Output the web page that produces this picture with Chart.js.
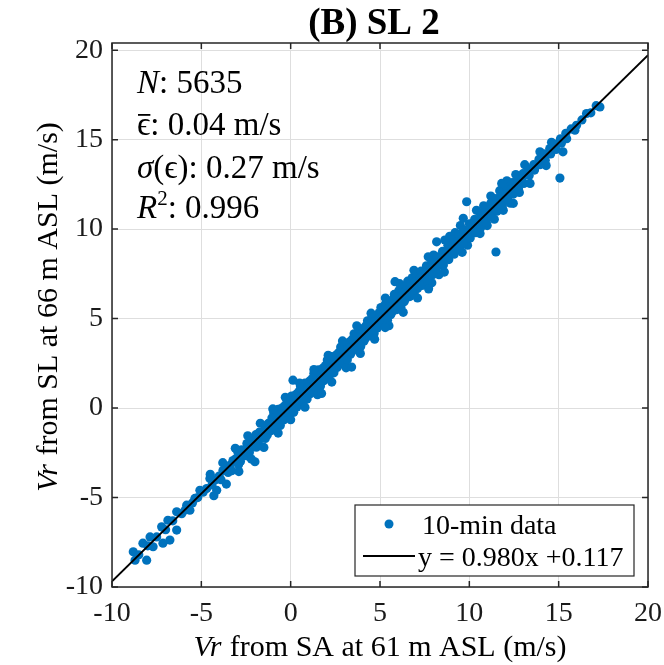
<!DOCTYPE html>
<html>
<head>
<meta charset="utf-8">
<script src="https://cdn.jsdelivr.net/npm/chart.js@4.4.1/dist/chart.umd.min.js"></script>
<style>
  html, body { margin: 0; padding: 0; background: #fff; }
  #wrap { width: 664px; height: 665px; }
</style>
</head>
<body>
<div id="wrap"><canvas id="chart" width="664" height="665"></canvas></div>
<script>
// axis setup (the y box runs a little past 20, like the original)
const xMin = -10, xMax = 20;
const yMin = -10, yMax = 20.4;
const tickValues = [-10, -5, 0, 5, 10, 15, 20];

// fit from the legend
const fitSlope = 0.980;
const fitIntercept = 0.117;

// stats box
const statN = '5635';
const statMeanErr = '0.04';
const statStdErr = '0.27';
const statR2 = '0.996';

// 10-min data as [SA, SL]
const tailLow = [
  [-8.81,-8.03],[-8.71,-8.5],[-8.06,-8.5],[-8.27,-7.55],[-7.87,-7.2],[-7.7,-7.75],
  [-7.22,-6.64],[-7.15,-7.55],[-6.87,-6.27],[-6.76,-7.38],[-6.38,-5.8],[-6.38,-6.82],
  [-5.82,-5.43],[-5.64,-5.71],[-5.36,-5.05],[-5.08,-4.6],[-4.52,-3.94],[-4.14,-4.6],
  [-3.79,-3.49],[-3.23,-2.93],[-2.84,-2.38],[-2.0,-3.0],
  [-8.5,-8.2],[-8.0,-7.7],[-7.5,-7.2],[-7.0,-6.8],[-6.6,-6.3],[-6.1,-5.9],[-5.9,-5.7],
  [-5.5,-5.3],[-5.2,-5.0],[-4.9,-4.7],[-4.7,-4.5],[-4.4,-4.3],[-4.2,-4.0],[-4.0,-3.8],
  [-3.9,-4.0],[-3.6,-3.4],[-3.5,-3.6],[-3.4,-3.2],[-3.3,-3.5],[-3.1,-2.9]
];

const core = [
  [-2.95,-2.47],[-3.05,-2.82],[-2.92,-3.17],
  [-2.75,-2.33],[-2.65,-2.68],[-2.81,-2.98],
  [-2.45,-1.98],[-2.55,-2.33],[-2.42,-2.68],
  [-2.25,-1.84],[-2.15,-2.19],[-2.31,-2.49],
  [-1.95,-1.49],[-2.05,-1.84],[-1.92,-2.19],
  [-1.75,-1.35],[-1.65,-1.70],[-1.81,-2.00],
  [-1.45,-1.00],[-1.55,-1.35],[-1.42,-1.70],
  [-1.25,-0.86],[-1.15,-1.21],[-1.31,-1.51],
  [-0.95,-0.26],[-1.05,-0.56],[-0.90,-0.91],[-1.08,-1.26],
  [-0.70,-0.07],[-0.80,-0.42],[-0.65,-0.77],[-0.83,-1.12],
  [-0.45,0.03],[-0.55,-0.32],[-0.40,-0.67],[-0.58,-0.97],
  [-0.20,0.47],[-0.30,0.17],[-0.15,-0.18],[-0.33,-0.53],
  [0.05,0.67],[-0.05,0.32],[0.10,-0.03],[-0.08,-0.38],
  [0.30,0.76],[0.20,0.41],[0.35,0.06],[0.17,-0.24],
  [0.55,1.21],[0.45,0.91],[0.60,0.56],[0.42,0.21],
  [0.80,1.40],[0.70,1.05],[0.85,0.70],[0.67,0.35],
  [1.05,1.50],[0.95,1.15],[1.10,0.80],[0.92,0.50],
  [1.30,1.94],[1.20,1.64],[1.35,1.29],[1.17,0.94],
  [1.55,2.14],[1.45,1.79],[1.60,1.44],[1.42,1.09],
  [1.80,2.23],[1.70,1.88],[1.85,1.53],[1.67,1.23],
  [2.05,2.68],[1.95,2.38],[2.10,2.03],[1.92,1.68],
  [2.30,2.87],[2.20,2.52],[2.35,2.17],[2.17,1.82],
  [2.55,2.97],[2.45,2.62],[2.60,2.27],[2.42,1.97],
  [2.80,3.41],[2.70,3.11],[2.85,2.76],[2.67,2.41],
  [3.05,3.61],[2.95,3.26],[3.10,2.91],[2.92,2.56],
  [3.30,3.70],[3.20,3.35],[3.35,3.00],[3.17,2.70],
  [3.55,4.15],[3.45,3.85],[3.60,3.50],[3.42,3.15],
  [3.80,4.34],[3.70,3.99],[3.85,3.64],[3.67,3.29],
  [4.05,4.44],[3.95,4.09],[4.10,3.74],[3.92,3.44],
  [4.30,4.88],[4.20,4.58],[4.35,4.23],[4.17,3.88],
  [4.55,5.08],[4.45,4.73],[4.60,4.38],[4.42,4.03],
  [4.80,5.17],[4.70,4.82],[4.85,4.47],[4.67,4.17],
  [5.05,5.62],[4.95,5.32],[5.10,4.97],[4.92,4.62],
  [5.30,5.81],[5.20,5.46],[5.35,5.11],[5.17,4.76],
  [5.55,5.91],[5.45,5.56],[5.60,5.21],[5.42,4.91],
  [5.80,6.35],[5.70,6.05],[5.85,5.70],[5.67,5.35],
  [6.05,6.55],[5.95,6.20],[6.10,5.85],[5.92,5.50],
  [6.30,6.64],[6.20,6.29],[6.35,5.94],[6.17,5.64],
  [6.55,7.09],[6.45,6.79],[6.60,6.44],[6.42,6.09],
  [6.80,7.28],[6.70,6.93],[6.85,6.58],[6.67,6.23],
  [7.05,7.38],[6.95,7.03],[7.10,6.68],[6.92,6.38]
];

// rough upper / lower edges of the dense band
const edges = [
  [-4.5,-3.7],[-4.3,-4.9],[-3.8,-3.05],[-3.6,-4.25],[-3.1,-2.25],[-2.9,-3.55],
  [-2.4,-1.55],[-2.2,-2.85],[-1.7,-0.85],[-1.5,-2.2],[-1.0,-0.05],[-0.7,-1.4],
  [-0.3,0.6],[0.0,-0.65],[0.5,1.4],[0.8,0.05],[1.3,2.15],[1.5,0.75],
  [2.1,2.95],[2.3,1.45],[2.9,3.75],[3.1,2.25],[3.7,4.6],[3.9,3.05],
  [4.5,5.3],[4.7,3.85],[5.3,6.15],[5.5,4.6],[6.1,6.95],[6.3,5.35],
  [6.9,7.7],[7.1,6.15],[7.7,8.45],[7.9,7.0],[8.9,9.6],[8.6,7.6],
  [9.5,10.2],[9.6,8.7],[10.4,11.05],[10.6,9.75],[11.2,11.85],[11.4,10.55],
  [12.1,12.7],[12.3,11.45],[13.1,13.6],[13.4,12.55],[14.3,13.55],[14.6,14.85],
  [8.0,8.55],[8.3,7.45],[9.2,9.8],[9.9,9.1],[10.8,11.3],[11.0,10.2],
  [11.7,12.15],[11.9,11.05],[12.6,13.05],[12.8,12.05]
];

const upper = [
  [7.3,7.65],[7.25,7.25],[7.35,6.85],
  [7.6,7.95],[7.55,7.5],[7.65,7.1],
  [7.9,8.2],[7.85,7.85],[7.95,7.45],
  [8.2,8.45],[8.25,8.0],[8.15,7.75],
  [8.5,8.75],[8.45,8.4],[8.55,8.0],
  [8.8,9.1],[8.75,8.7],[8.85,8.3],
  [9.1,9.4],[9.05,9.0],[9.15,8.6],
  [9.4,9.7],[9.35,9.3],[9.45,8.95],
  [9.7,9.95],[9.75,9.55],[9.65,9.2],
  [10.0,10.3],[9.95,9.85],[10.05,9.5],
  [10.3,10.55],[10.25,10.15],[10.35,9.8],
  [10.6,10.9],[10.55,10.5],[10.65,10.1],
  [10.9,11.15],[10.85,10.75],[10.95,10.4],
  [11.2,11.45],[11.15,11.05],[11.25,10.7],
  [11.5,11.7],[11.45,11.35],[11.55,11.0],
  [11.8,12.0],[11.75,11.65],[11.85,11.3],
  [12.1,12.3],[12.05,11.95],[12.15,11.65],
  [12.4,12.6],[12.35,12.25],[12.45,11.95],
  [12.7,12.8],[12.65,12.5],[12.75,12.25],
  [13.0,13.1],[12.95,12.8],[13.05,12.55],
  [13.3,13.35],[13.35,13.0],
  [13.6,13.6],[13.65,13.3],
  [13.9,13.9],[13.95,13.6],
  [14.2,14.2],[14.25,13.85],
  [14.5,14.5],[14.55,14.2],
  [14.8,14.75],[14.85,14.45],
  [15.1,15.05],[15.15,14.8],
  [15.4,15.35],[15.45,15.05],
  [15.7,15.6],[15.91,15.53],
  [16.0,15.8],[16.3,16.1],[16.56,16.46],
  [16.8,16.5],[17.1,16.9],[17.31,16.83]
];

const outliers = [
  [3.41,2.29],[1.73,0.82],[0.13,1.56],[5.29,4.50],[5.84,7.06],[7.72,6.66],
  [8.17,9.29],[8.63,9.39],[9.66,10.6],[9.85,11.53],[11.49,8.72],[11.81,12.55],
  [12.46,11.44],[13.95,14.32],[15.07,12.85],[15.24,14.32]
];

const scatterPoints = [...tailLow, ...core, ...edges, ...upper, ...outliers].map(p => ({ x: p[0], y: p[1] }));
const fitLine = [xMin, xMax].map(x => ({ x, y: fitSlope * x + fitIntercept }));

const serif = '"Liberation Serif", "Times New Roman", serif';
const dotColor = '#0072bd';

// draws a row of text pieces with different fonts
function drawRuns(ctx, x, y, runs) {
  let cx = x;
  runs.forEach(r => {
    ctx.font = r.f;
    ctx.fillText(r.t, cx, y + (r.dy || 0));
    cx += ctx.measureText(r.t).width + (r.gap || 0);
  });
  return cx;
}

function runsWidth(ctx, runs) {
  let w = 0;
  runs.forEach(r => { ctx.font = r.f; w += ctx.measureText(r.t).width + (r.gap || 0); });
  return w;
}

const decor = {
  id: 'decor',
  afterDatasetsDraw(chart) {
    const ctx = chart.ctx;
    const a = chart.chartArea;
    const xs = chart.scales.x, ys = chart.scales.y;
    ctx.save();

    // box + inward ticks
    ctx.strokeStyle = '#262626';
    ctx.lineWidth = 1.5;
    ctx.strokeRect(a.left, a.top, a.right - a.left, a.bottom - a.top);
    ctx.beginPath();
    tickValues.forEach(v => {
      const px = xs.getPixelForValue(v);
      ctx.moveTo(px, a.bottom); ctx.lineTo(px, a.bottom - 6);
      ctx.moveTo(px, a.top); ctx.lineTo(px, a.top + 6);
      const py = ys.getPixelForValue(v);
      ctx.moveTo(a.left, py); ctx.lineTo(a.left + 6, py);
      ctx.moveTo(a.right, py); ctx.lineTo(a.right - 6, py);
    });
    ctx.stroke();

    ctx.fillStyle = '#000';
    ctx.textBaseline = 'alphabetic';
    ctx.textAlign = 'left';

    // title
    ctx.font = 'bold 37px ' + serif;
    ctx.textAlign = 'center';
    ctx.fillText('(B) SL 2', (a.left + a.right) / 2 - 6, 34);
    ctx.textAlign = 'left';

    // axis titles
    const it = 'italic 30px ' + serif, rg = '30px ' + serif;
    const xRuns = [{ t: 'Vr', f: it, gap: 1 }, { t: ' from SA at 61 m ASL (m/s)', f: rg }];
    const xw = runsWidth(ctx, xRuns);
    drawRuns(ctx, (a.left + a.right) / 2 - xw / 2, 656, xRuns);

    const yRuns = [{ t: 'Vr', f: it, gap: 1 }, { t: ' from SL at 66 m ASL (m/s)', f: rg }];
    const yw = runsWidth(ctx, yRuns);
    ctx.save();
    ctx.translate(57, (a.top + a.bottom) / 2 - 8);
    ctx.rotate(-Math.PI / 2);
    drawRuns(ctx, -yw / 2, 0, yRuns);
    ctx.restore();

    // stats text
    const si = 'italic 33px ' + serif, sr = '33px ' + serif;
    const tx = a.left + 25;
    drawRuns(ctx, tx, 93, [{ t: 'N', f: si }, { t: ': ' + statN, f: sr }]);
    const ex = drawRuns(ctx, tx, 135, [{ t: 'ϵ', f: sr }]);
    ctx.fillRect(tx + 1, 114, ex - tx - 1, 1.8);
    drawRuns(ctx, ex, 135, [{ t: ': ' + statMeanErr + ' m/s', f: sr }]);
    drawRuns(ctx, tx, 178, [{ t: 'σ', f: si }, { t: '(', f: sr }, { t: 'ϵ', f: sr }, { t: '): ' + statStdErr + ' m/s', f: sr }]);
    drawRuns(ctx, tx, 218, [{ t: 'R', f: si }, { t: '2', f: '21px ' + serif, dy: -13 }, { t: ': ' + statR2, f: sr }]);

    // legend box
    const lx = 355, ly = 505, lw = 279, lh = 71;
    ctx.fillStyle = '#fff';
    ctx.fillRect(lx, ly, lw, lh);
    ctx.strokeStyle = '#262626';
    ctx.lineWidth = 1.2;
    ctx.strokeRect(lx, ly, lw, lh);
    const ds0 = chart.data.datasets[0], ds1 = chart.data.datasets[1];
    ctx.fillStyle = ds0.backgroundColor;
    ctx.beginPath();
    ctx.arc(389, 524, 4.5, 0, Math.PI * 2);
    ctx.fill();
    ctx.strokeStyle = ds1.borderColor;
    ctx.lineWidth = 2;
    ctx.beginPath();
    ctx.moveTo(363, 556); ctx.lineTo(415, 556);
    ctx.stroke();
    ctx.fillStyle = '#000';
    ctx.font = '28px ' + serif;
    ctx.fillText(ds0.label, 422, 534);
    ctx.fillText(ds1.label, 418, 566);

    ctx.restore();
  }
};

const tickFont = { family: serif, size: 28 };

new Chart(document.getElementById('chart'), {
  type: 'scatter',
  data: {
    datasets: [
      {
        label: '10-min data',
        data: scatterPoints,
        backgroundColor: dotColor,
        borderWidth: 0,
        pointRadius: 4.6,
        order: 2
      },
      {
        type: 'line',
        label: 'y = ' + fitSlope.toFixed(3) + 'x +' + fitIntercept.toFixed(3),
        data: fitLine,
        borderColor: '#000',
        borderWidth: 2,
        pointRadius: 0,
        order: 1
      }
    ]
  },
  options: {
    responsive: false,
    animation: false,
    events: [],
    layout: { padding: { top: 43, right: 16, bottom: 0, left: 0 } },
    plugins: { legend: { display: false }, tooltip: { enabled: false }, title: { display: false } },
    scales: {
      x: {
        type: 'linear', min: xMin, max: xMax,
        afterBuildTicks: s => { s.ticks = tickValues.map(v => ({ value: v })); },
        afterFit: s => { s.height = 78; s.paddingLeft = 0; s.paddingRight = 0; },
        ticks: { font: tickFont, color: '#1a1a1a', padding: 10, maxRotation: 0 },
        grid: { color: '#dedede', lineWidth: 1, drawTicks: false },
        border: { display: false }
      },
      y: {
        type: 'linear', min: yMin, max: yMax,
        afterBuildTicks: s => { s.ticks = tickValues.map(v => ({ value: v })); },
        afterFit: s => { s.width = 112; s.paddingTop = 0; s.paddingBottom = 0; },
        ticks: { font: tickFont, color: '#1a1a1a', padding: 9 },
        grid: { color: '#dedede', lineWidth: 1, drawTicks: false },
        border: { display: false }
      }
    }
  },
  plugins: [decor]
});
</script>
</body>
</html>
